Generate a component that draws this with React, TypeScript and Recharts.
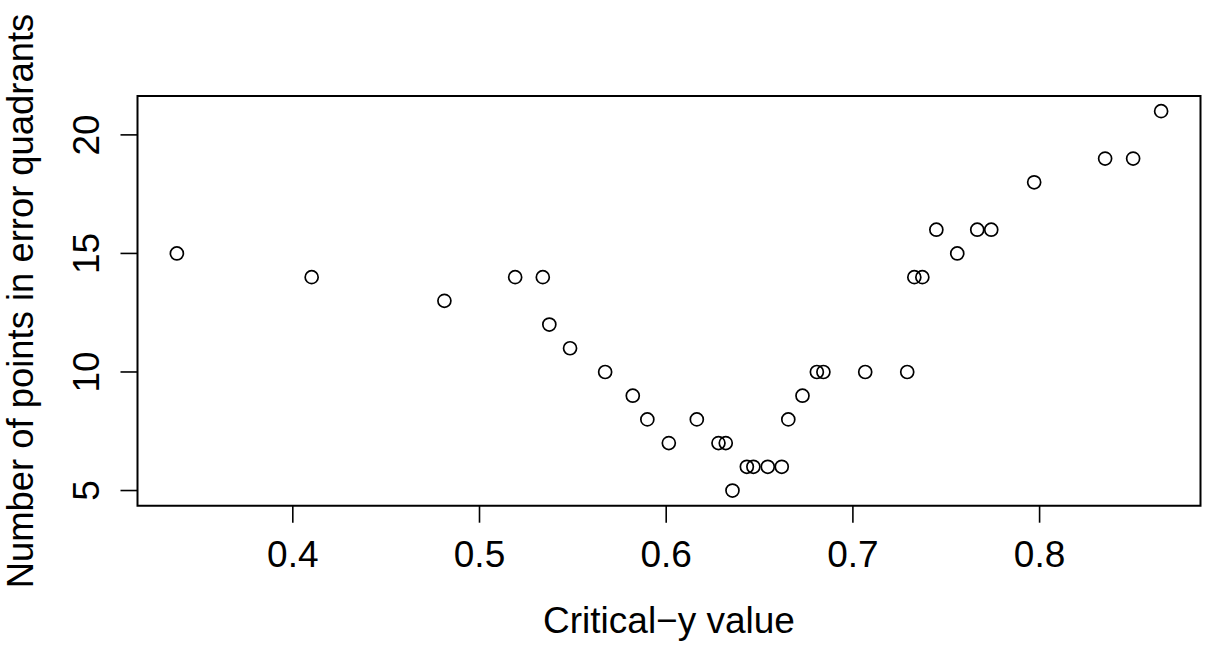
import { ScatterChart, Scatter, XAxis, YAxis, ReferenceArea, Label } from 'recharts';

// critical-y value vs number of points in error quadrants
const criticalY = [
  0.3379, 0.4101, 0.4812, 0.5191, 0.5339, 0.5374, 0.5485, 0.5673, 0.5821, 0.5899,
  0.6014, 0.6164, 0.6280, 0.6319, 0.6355, 0.6432, 0.6467, 0.6544, 0.6619, 0.6654,
  0.6730, 0.6807, 0.6842, 0.7066, 0.7291, 0.7329, 0.7372, 0.7447, 0.7559, 0.7666,
  0.7741, 0.7971, 0.8351, 0.8501, 0.8651,
];
const errorCount = [
  15, 14, 13, 14, 14, 12, 11, 10, 9, 8,
  7, 8, 7, 7, 5, 6, 6, 6, 6, 8,
  9, 10, 10, 10, 10, 14, 14, 16, 15, 16,
  16, 18, 19, 19, 21,
];
const xTicks = [0.4, 0.5, 0.6, 0.7, 0.8];
const yTicks = [5, 10, 15, 20];

const FONT = '"Liberation Sans", Arial, Helvetica, sans-serif';
const FS = 37;

// R pads the axis range by 4% on each side
const pad = (lo: number, hi: number): [number, number] => {
  const d = (hi - lo) * 0.04;
  return [lo - d, hi + d];
};
const xDomain = pad(Math.min(...criticalY), Math.max(...criticalY));
const yDomain = pad(Math.min(...errorCount), Math.max(...errorCount));

const data = criticalY.map((x, i) => ({ x, y: errorCount[i] }));

const XTick = (props: any) => {
  const { x, payload } = props;
  return (
    <text x={x} y={567} textAnchor="middle" fontFamily={FONT} fontSize={FS} fill="#000">
      {payload.value.toFixed(1)}
    </text>
  );
};

const YTick = (props: any) => {
  const { y, payload } = props;
  return (
    <text
      x={99}
      y={y}
      transform={`rotate(-90, 99, ${y})`}
      textAnchor="middle"
      fontFamily={FONT}
      fontSize={FS}
      fill="#000"
    >
      {payload.value}
    </text>
  );
};

const Circle = (props: any) => (
  <circle cx={props.cx} cy={props.cy} r={6.5} fill="none" stroke="#000" strokeWidth={1.7} />
);

export default function App() {
  return (
    <div style={{ position: 'absolute', left: 0, top: 0, width: 1210, height: 648, background: '#fff' }}>
      <ScatterChart width={1210} height={648} margin={{ top: 96, right: 9.5, bottom: 0, left: 0 }}>
        <XAxis
          type="number"
          dataKey="x"
          domain={xDomain}
          ticks={xTicks}
          allowDataOverflow
          axisLine={false}
          tickLine={{ stroke: '#000', strokeWidth: 1.6 }}
          tickSize={17}
          tick={<XTick />}
          height={142.3}
        >
          <Label
            content={() => (
              <text x={669} y={633} textAnchor="middle" fontFamily={FONT} fontSize={FS} fill="#000">
                Critical−y value
              </text>
            )}
          />
        </XAxis>
        <YAxis
          type="number"
          dataKey="y"
          domain={yDomain}
          ticks={yTicks}
          allowDataOverflow
          axisLine={false}
          tickLine={{ stroke: '#000', strokeWidth: 1.6 }}
          tickSize={17}
          tick={<YTick />}
          width={137.5}
        >
          <Label
            content={() => (
              <text
                x={33}
                y={301}
                transform="rotate(-90, 33, 301)"
                textAnchor="middle"
                fontFamily={FONT}
                fontSize={36.4}
                fill="#000"
              >
                Number of points in error quadrants
              </text>
            )}
          />
        </YAxis>
        <ReferenceArea
          x1={xDomain[0]}
          x2={xDomain[1]}
          y1={yDomain[0]}
          y2={yDomain[1]}
          fill="none"
          stroke="#000"
          strokeWidth={2}
          ifOverflow="visible"
        />
        <Scatter data={data} shape={<Circle />} isAnimationActive={false} />
      </ScatterChart>
    </div>
  );
}
